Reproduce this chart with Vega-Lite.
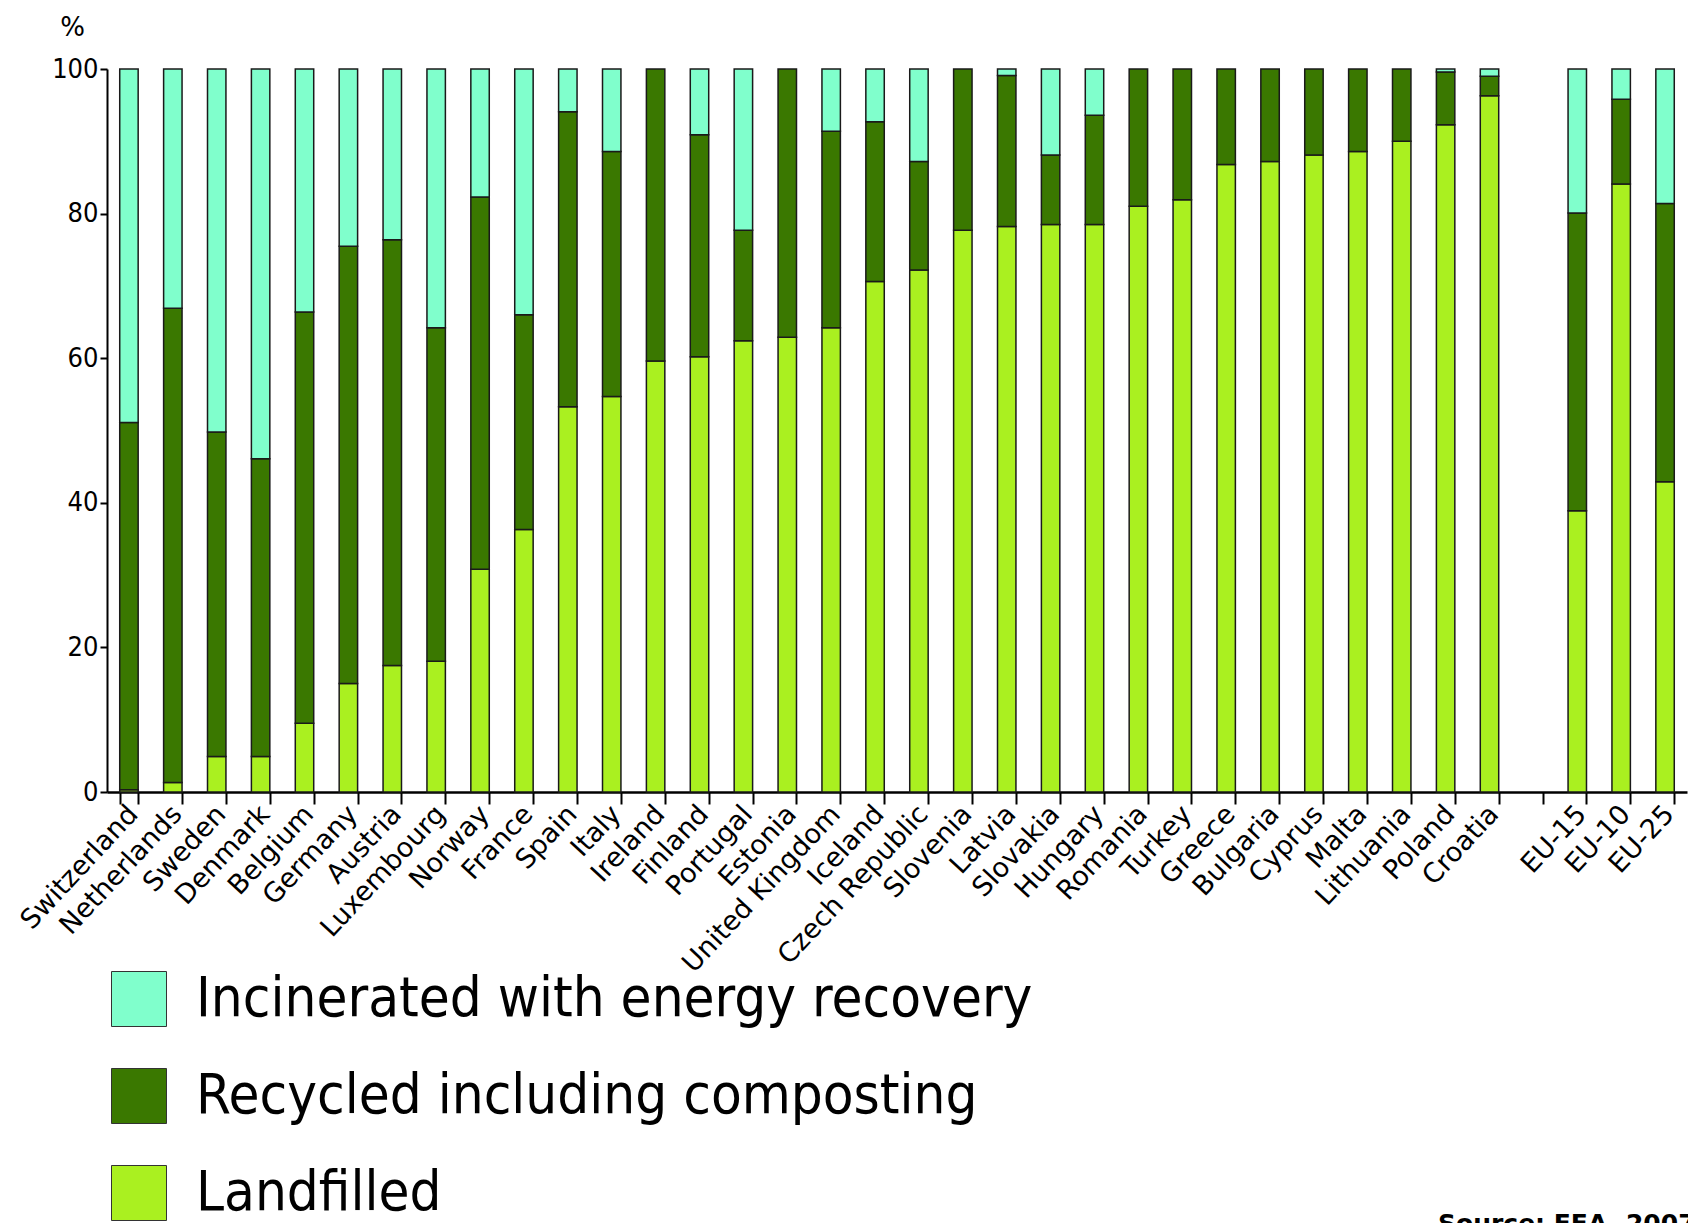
{
  "$schema": "https://vega.github.io/schema/vega-lite/v6.json",
  "autosize": {"type": "none"},
  "width": 1580,
  "height": 723,
  "padding": {"left": 107, "top": 69, "right": 1, "bottom": 431},
  "background": "white",
  "title": {"text": "Source: EEA, 2007", "orient": "top", "anchor": "start", "frame": "group", "dx": 1331, "dy": 1223, "baseline": "top", "font": "DejaVu Sans", "fontSize": 25, "fontWeight": "bold", "color": "black", "offset": 0},
  "data": {"values": [
    {"country": "Switzerland", "method": "Landfilled", "pct": 0.3},
    {"country": "Switzerland", "method": "Recycled including composting", "pct": 50.8},
    {"country": "Switzerland", "method": "Incinerated with energy recovery", "pct": 48.9},
    {"country": "Netherlands", "method": "Landfilled", "pct": 1.3},
    {"country": "Netherlands", "method": "Recycled including composting", "pct": 65.6},
    {"country": "Netherlands", "method": "Incinerated with energy recovery", "pct": 33.1},
    {"country": "Sweden", "method": "Landfilled", "pct": 4.9},
    {"country": "Sweden", "method": "Recycled including composting", "pct": 44.9},
    {"country": "Sweden", "method": "Incinerated with energy recovery", "pct": 50.2},
    {"country": "Denmark", "method": "Landfilled", "pct": 4.9},
    {"country": "Denmark", "method": "Recycled including composting", "pct": 41.2},
    {"country": "Denmark", "method": "Incinerated with energy recovery", "pct": 53.9},
    {"country": "Belgium", "method": "Landfilled", "pct": 9.5},
    {"country": "Belgium", "method": "Recycled including composting", "pct": 56.9},
    {"country": "Belgium", "method": "Incinerated with energy recovery", "pct": 33.6},
    {"country": "Germany", "method": "Landfilled", "pct": 15.0},
    {"country": "Germany", "method": "Recycled including composting", "pct": 60.5},
    {"country": "Germany", "method": "Incinerated with energy recovery", "pct": 24.5},
    {"country": "Austria", "method": "Landfilled", "pct": 17.5},
    {"country": "Austria", "method": "Recycled including composting", "pct": 58.9},
    {"country": "Austria", "method": "Incinerated with energy recovery", "pct": 23.6},
    {"country": "Luxembourg", "method": "Landfilled", "pct": 18.1},
    {"country": "Luxembourg", "method": "Recycled including composting", "pct": 46.1},
    {"country": "Luxembourg", "method": "Incinerated with energy recovery", "pct": 35.8},
    {"country": "Norway", "method": "Landfilled", "pct": 30.8},
    {"country": "Norway", "method": "Recycled including composting", "pct": 51.5},
    {"country": "Norway", "method": "Incinerated with energy recovery", "pct": 17.7},
    {"country": "France", "method": "Landfilled", "pct": 36.3},
    {"country": "France", "method": "Recycled including composting", "pct": 29.7},
    {"country": "France", "method": "Incinerated with energy recovery", "pct": 34.0},
    {"country": "Spain", "method": "Landfilled", "pct": 53.3},
    {"country": "Spain", "method": "Recycled including composting", "pct": 40.8},
    {"country": "Spain", "method": "Incinerated with energy recovery", "pct": 5.9},
    {"country": "Italy", "method": "Landfilled", "pct": 54.7},
    {"country": "Italy", "method": "Recycled including composting", "pct": 33.9},
    {"country": "Italy", "method": "Incinerated with energy recovery", "pct": 11.4},
    {"country": "Ireland", "method": "Landfilled", "pct": 59.6},
    {"country": "Ireland", "method": "Recycled including composting", "pct": 40.4},
    {"country": "Finland", "method": "Landfilled", "pct": 60.2},
    {"country": "Finland", "method": "Recycled including composting", "pct": 30.7},
    {"country": "Finland", "method": "Incinerated with energy recovery", "pct": 9.1},
    {"country": "Portugal", "method": "Landfilled", "pct": 62.4},
    {"country": "Portugal", "method": "Recycled including composting", "pct": 15.3},
    {"country": "Portugal", "method": "Incinerated with energy recovery", "pct": 22.3},
    {"country": "Estonia", "method": "Landfilled", "pct": 62.9},
    {"country": "Estonia", "method": "Recycled including composting", "pct": 37.1},
    {"country": "United Kingdom", "method": "Landfilled", "pct": 64.2},
    {"country": "United Kingdom", "method": "Recycled including composting", "pct": 27.2},
    {"country": "United Kingdom", "method": "Incinerated with energy recovery", "pct": 8.6},
    {"country": "Iceland", "method": "Landfilled", "pct": 70.6},
    {"country": "Iceland", "method": "Recycled including composting", "pct": 22.1},
    {"country": "Iceland", "method": "Incinerated with energy recovery", "pct": 7.3},
    {"country": "Czech Republic", "method": "Landfilled", "pct": 72.2},
    {"country": "Czech Republic", "method": "Recycled including composting", "pct": 15.0},
    {"country": "Czech Republic", "method": "Incinerated with energy recovery", "pct": 12.8},
    {"country": "Slovenia", "method": "Landfilled", "pct": 77.7},
    {"country": "Slovenia", "method": "Recycled including composting", "pct": 22.3},
    {"country": "Latvia", "method": "Landfilled", "pct": 78.2},
    {"country": "Latvia", "method": "Recycled including composting", "pct": 20.9},
    {"country": "Latvia", "method": "Incinerated with energy recovery", "pct": 0.9},
    {"country": "Slovakia", "method": "Landfilled", "pct": 78.5},
    {"country": "Slovakia", "method": "Recycled including composting", "pct": 9.6},
    {"country": "Slovakia", "method": "Incinerated with energy recovery", "pct": 11.9},
    {"country": "Hungary", "method": "Landfilled", "pct": 78.5},
    {"country": "Hungary", "method": "Recycled including composting", "pct": 15.1},
    {"country": "Hungary", "method": "Incinerated with energy recovery", "pct": 6.4},
    {"country": "Romania", "method": "Landfilled", "pct": 81.0},
    {"country": "Romania", "method": "Recycled including composting", "pct": 19.0},
    {"country": "Turkey", "method": "Landfilled", "pct": 81.9},
    {"country": "Turkey", "method": "Recycled including composting", "pct": 18.1},
    {"country": "Greece", "method": "Landfilled", "pct": 86.8},
    {"country": "Greece", "method": "Recycled including composting", "pct": 13.2},
    {"country": "Bulgaria", "method": "Landfilled", "pct": 87.2},
    {"country": "Bulgaria", "method": "Recycled including composting", "pct": 12.8},
    {"country": "Cyprus", "method": "Landfilled", "pct": 88.1},
    {"country": "Cyprus", "method": "Recycled including composting", "pct": 11.9},
    {"country": "Malta", "method": "Landfilled", "pct": 88.6},
    {"country": "Malta", "method": "Recycled including composting", "pct": 11.4},
    {"country": "Lithuania", "method": "Landfilled", "pct": 90.0},
    {"country": "Lithuania", "method": "Recycled including composting", "pct": 10.0},
    {"country": "Poland", "method": "Landfilled", "pct": 92.3},
    {"country": "Poland", "method": "Recycled including composting", "pct": 7.3},
    {"country": "Poland", "method": "Incinerated with energy recovery", "pct": 0.4},
    {"country": "Croatia", "method": "Landfilled", "pct": 96.3},
    {"country": "Croatia", "method": "Recycled including composting", "pct": 2.7},
    {"country": "Croatia", "method": "Incinerated with energy recovery", "pct": 1.0},
    {"country": "EU-15", "method": "Landfilled", "pct": 38.9},
    {"country": "EU-15", "method": "Recycled including composting", "pct": 41.2},
    {"country": "EU-15", "method": "Incinerated with energy recovery", "pct": 19.9},
    {"country": "EU-10", "method": "Landfilled", "pct": 84.1},
    {"country": "EU-10", "method": "Recycled including composting", "pct": 11.7},
    {"country": "EU-10", "method": "Incinerated with energy recovery", "pct": 4.2},
    {"country": "EU-25", "method": "Landfilled", "pct": 42.9},
    {"country": "EU-25", "method": "Recycled including composting", "pct": 38.5},
    {"country": "EU-25", "method": "Incinerated with energy recovery", "pct": 18.6}
  ]},
  "transform": [
    {"calculate": "indexof(['Landfilled', 'Recycled including composting', 'Incinerated with energy recovery'], datum.method)", "as": "stackOrder"}
  ],
  "mark": {"type": "bar", "stroke": "#1a1a1a", "strokeWidth": 1.5},
  "encoding": {
    "x": {
      "field": "country", "type": "nominal",
      "scale": {"domain": ["Switzerland", "Netherlands", "Sweden", "Denmark", "Belgium", "Germany", "Austria", "Luxembourg", "Norway", "France", "Spain", "Italy", "Ireland", "Finland", "Portugal", "Estonia", "United Kingdom", "Iceland", "Czech Republic", "Slovenia", "Latvia", "Slovakia", "Hungary", "Romania", "Turkey", "Greece", "Bulgaria", "Cyprus", "Malta", "Lithuania", "Poland", "Croatia", " ", "EU-15", "EU-10", "EU-25"], "paddingInner": 0.58, "paddingOuter": 0.29},
      "axis": {"title": null, "labelAngle": -47, "labelAlign": "right", "labelBaseline": "alphabetic", "labelFont": "DejaVu Sans", "labelFontSize": 27, "labelColor": "black", "labelPadding": 11, "labelOffset": 10, "labelOverlap": false, "labelLimit": 500, "tickBand": "extent", "tickSize": 12, "tickColor": "black", "tickWidth": 2, "domainColor": "black", "domainWidth": 2.5, "grid": false}
    },
    "y": {
      "field": "pct", "type": "quantitative", "stack": "zero",
      "scale": {"domain": [0, 100], "nice": false},
      "axis": {"title": "%", "titleAngle": 0, "titleX": -35, "titleY": -34, "titleAlign": "center", "titleBaseline": "alphabetic", "titleFont": "DejaVu Sans", "titleFontSize": 26, "titleFontWeight": "normal", "titleColor": "black", "values": [0, 20, 40, 60, 80, 100], "labelFont": "DejaVu Sans Condensed", "labelFontSize": 27, "labelColor": "black", "labelPadding": 2, "tickSize": 7, "tickColor": "black", "tickWidth": 2, "domainColor": "black", "domainWidth": 2, "grid": false}
    },
    "order": {"field": "stackOrder", "type": "quantitative"},
    "color": {
      "field": "method", "type": "nominal",
      "scale": {"domain": ["Incinerated with energy recovery", "Recycled including composting", "Landfilled"], "range": ["#80ffcc", "#3a7800", "#aaf020"]},
      "legend": {"title": null, "orient": "none", "legendX": 4, "legendY": 902, "direction": "vertical", "symbolType": "square", "symbolSize": 3025, "symbolStrokeColor": "#333333", "symbolStrokeWidth": 1, "labelFont": "DejaVu Sans Condensed", "labelFontSize": 56, "labelColor": "black", "labelOffset": 29, "rowPadding": 37, "labelLimit": 1500, "padding": 0}
    }
  },
  "config": {"view": {"stroke": null}}
}
